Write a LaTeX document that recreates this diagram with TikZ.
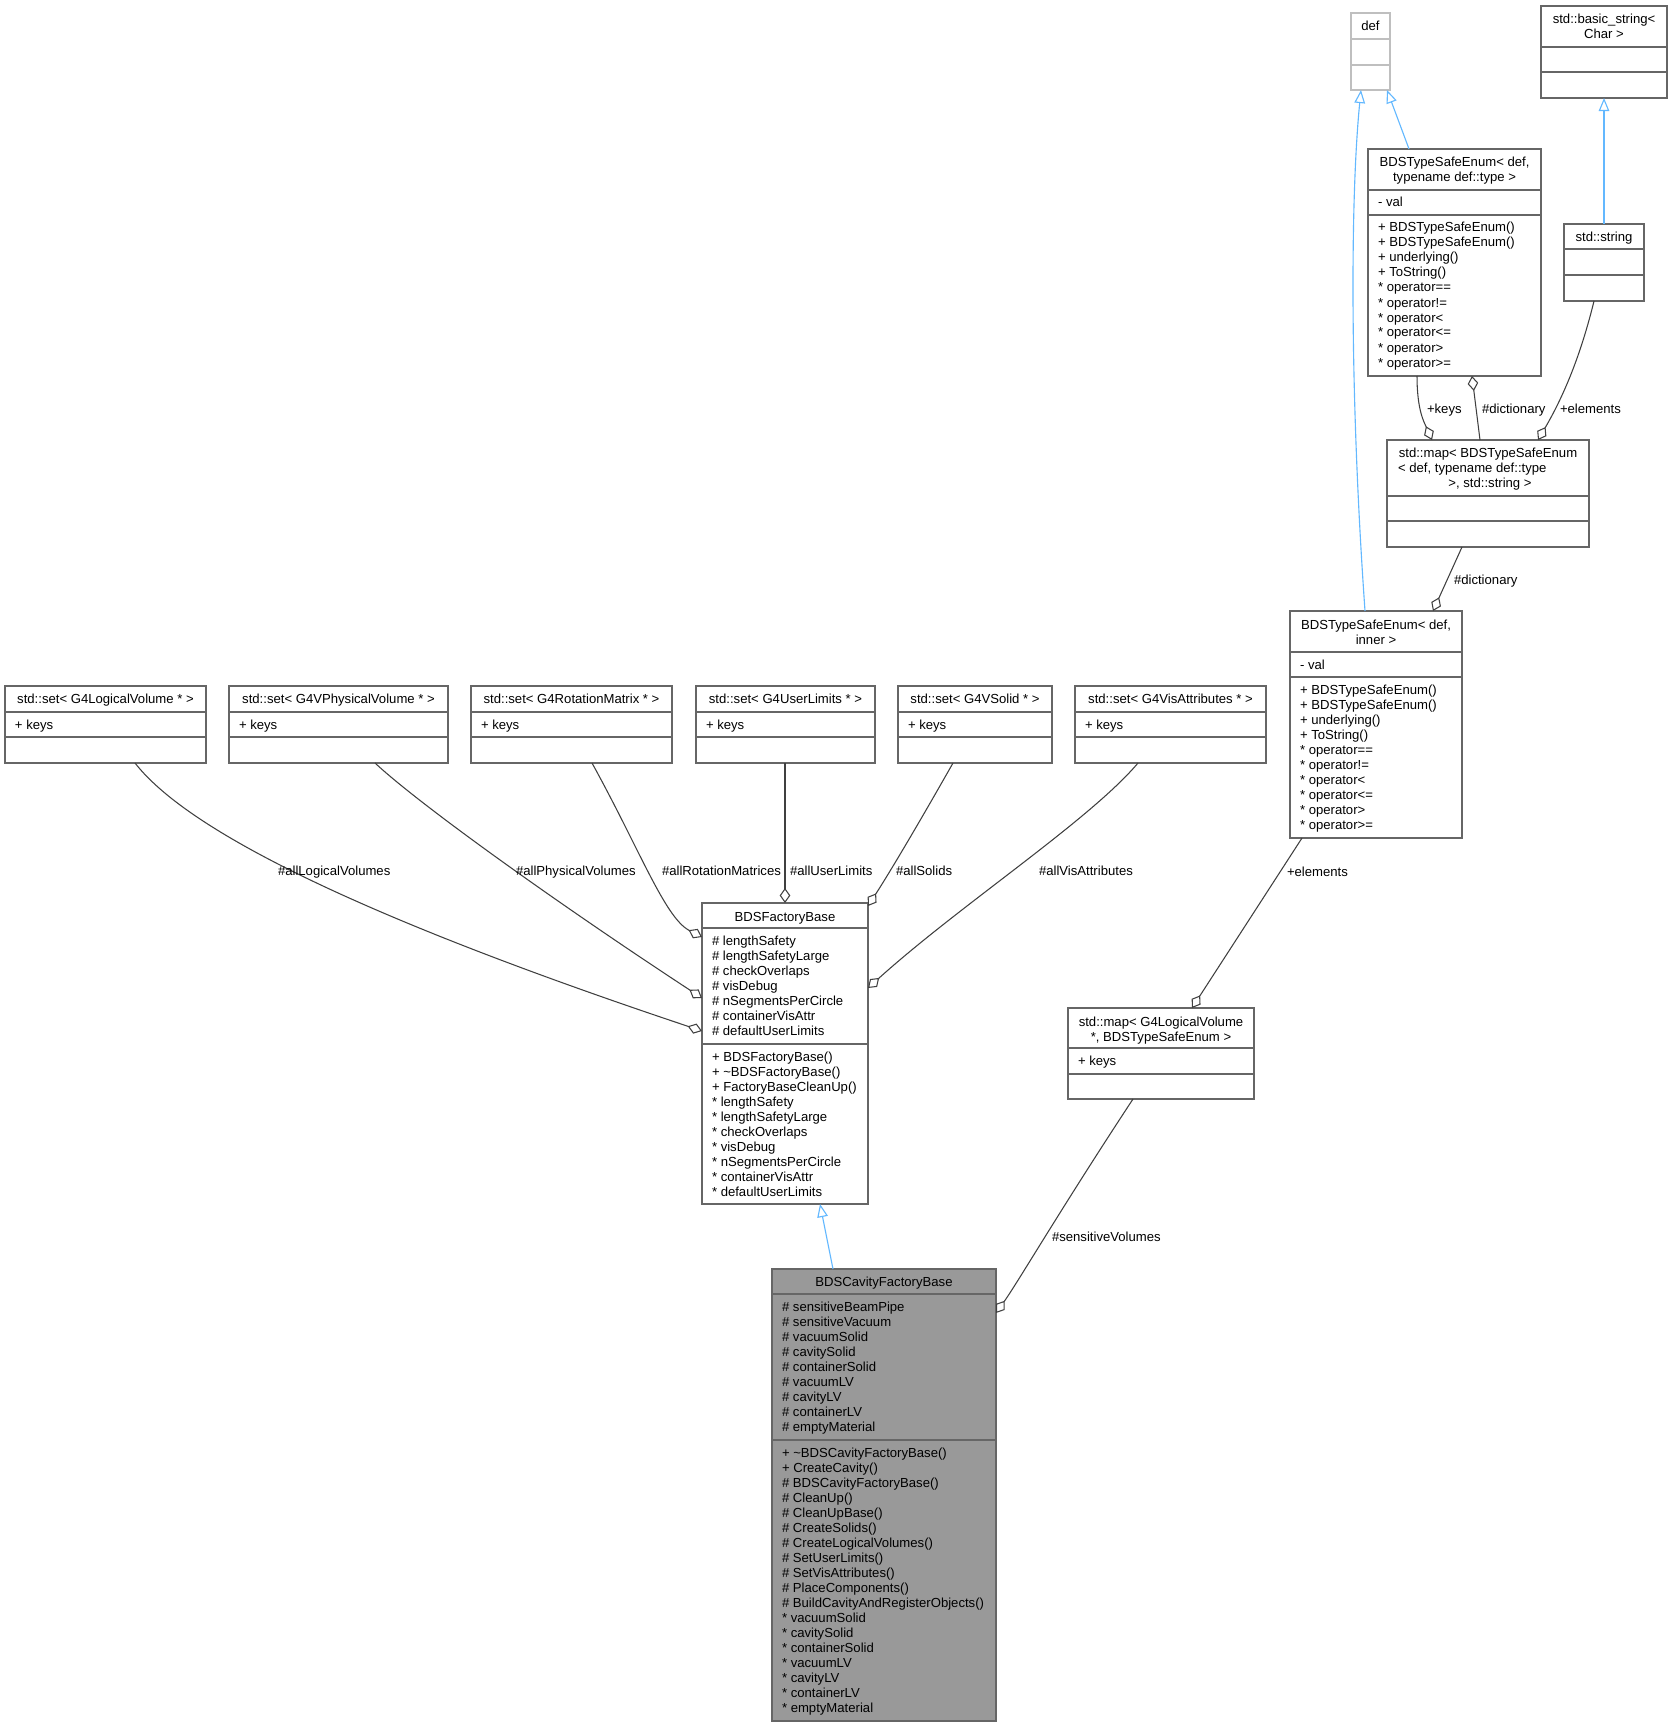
\documentclass[tikz,border=0pt]{standalone}
\usepackage{fontspec}
\setmainfont{Liberation Sans}
\usetikzlibrary{arrows.meta,calc}
\definecolor{boxgray}{HTML}{666666}
\definecolor{defgray}{HTML}{BFBFBF}
\definecolor{edgegray}{HTML}{404040}
\definecolor{inhblue}{HTML}{63B8FF}
\definecolor{cavfill}{HTML}{999999}
\tikzset{
  cls/.style={draw=boxgray, line width=0.9pt, fill=white, inner sep=0pt, outer sep=0pt, anchor=north west},
  divline/.style={draw=boxgray, line width=0.9pt},
  txt/.style={inner sep=0pt, outer sep=0pt, font=\fontsize{10.5}{12}\selectfont},
  assoc/.style={draw=edgegray, line width=0.85pt, -{Diamond[open, length=12pt, width=8.5pt, line width=0.85pt]}},
  inherit/.style={draw=inhblue, line width=0.9pt, -{Triangle[open, length=10.5pt, width=8.5pt, line width=0.9pt]}},
  lbl/.style={txt, anchor=base west},
}
\newcommand\umlcls[6]{\node[cls, #6, minimum width={(#4-#2)*0.8pt}, minimum height={(#5-#3)*0.8pt}] (#1) at (#2,#3) {};}
\newcommand\hdiv[4][boxgray]{\draw[divline, draw=#1] (#2,#4) -- (#3,#4);}
\newcommand\txtl[3]{\foreach \mytext [count=\i from 0] in {#3} {\node[txt, anchor=base west] at (#1, {#2+15*\i}) {\mytext};}}
\newcommand\txtc[3]{\foreach \mytext [count=\i from 0] in {#3} {\node[txt, anchor=base] at (#1, {#2+15*\i}) {\mytext};}}
\begin{document}
\begin{tikzpicture}[x=0.8pt, y=-0.8pt]
\useasboundingbox (0,0) rectangle (1672,1727);

% ---- def
\umlcls{def}{1351}{13}{1390}{90}{draw=defgray}
\hdiv[defgray]{1351}{1390}{39}\hdiv[defgray]{1351}{1390}{65}
\txtc{1370.5}{30.5}{def}

% ---- std::basic_string
\umlcls{bstr}{1541}{6}{1667}{98}{}
\hdiv{1541}{1667}{47}\hdiv{1541}{1667}{72}
\txtc{1604}{24}{std::basic\_string<, Char >}

% ---- std::string
\umlcls{str}{1564}{224}{1644}{301}{}
\hdiv{1564}{1644}{249}\hdiv{1564}{1644}{275}
\txtc{1604}{241.5}{std::string}

% ---- BDSTypeSafeEnum< def, typename def::type >
\umlcls{tse}{1368}{149}{1541}{376}{}
\hdiv{1368}{1541}{190}\hdiv{1368}{1541}{215}
\txtc{1454.5}{167}{{BDSTypeSafeEnum< def,}, typename def::type >}
\txtl{1378}{207}{- val}
\txtl{1378}{232}{+ BDSTypeSafeEnum(), + BDSTypeSafeEnum(), + underlying(), + ToString(), * operator==, * operator!=, * operator<, * operator<=, * operator>, * operator>=}

% ---- std::map< BDSTypeSafeEnum ... >
\umlcls{tmap}{1387}{440}{1589}{547}{}
\hdiv{1387}{1589}{496}\hdiv{1387}{1589}{521}
\txtc{1488}{457.5}{std::map< BDSTypeSafeEnum}
\txtl{1398}{472.5}{{< def, typename def::type}}
\txtc{1490}{487.5}{{>, std::string >}}

% ---- BDSTypeSafeEnum< def, inner >
\umlcls{inner}{1290}{611}{1462}{838}{}
\hdiv{1290}{1462}{652}\hdiv{1290}{1462}{677}
\txtc{1376}{629}{{BDSTypeSafeEnum< def,}, inner >}
\txtl{1300}{669}{- val}
\txtl{1300}{694}{+ BDSTypeSafeEnum(), + BDSTypeSafeEnum(), + underlying(), + ToString(), * operator==, * operator!=, * operator<, * operator<=, * operator>, * operator>=}

% ---- std::set boxes
\umlcls{slv}{5}{686}{206}{763}{}
\hdiv{5}{206}{712}\hdiv{5}{206}{737}
\txtc{105.5}{703.5}{std::set< G4LogicalVolume * >}
\txtl{15}{729}{+ keys}

\umlcls{spv}{229}{686}{448}{763}{}
\hdiv{229}{448}{712}\hdiv{229}{448}{737}
\txtc{338.5}{703.5}{std::set< G4VPhysicalVolume * >}
\txtl{239}{729}{+ keys}

\umlcls{srm}{471}{686}{672}{763}{}
\hdiv{471}{672}{712}\hdiv{471}{672}{737}
\txtc{571.5}{703.5}{std::set< G4RotationMatrix * >}
\txtl{481}{729}{+ keys}

\umlcls{sul}{696}{686}{875}{763}{}
\hdiv{696}{875}{712}\hdiv{696}{875}{737}
\txtc{785.5}{703.5}{std::set< G4UserLimits * >}
\txtl{706}{729}{+ keys}

\umlcls{svs}{898}{686}{1052}{763}{}
\hdiv{898}{1052}{712}\hdiv{898}{1052}{737}
\txtc{975}{703.5}{std::set< G4VSolid * >}
\txtl{908}{729}{+ keys}

\umlcls{sva}{1075}{686}{1266}{763}{}
\hdiv{1075}{1266}{712}\hdiv{1075}{1266}{737}
\txtc{1170.5}{703.5}{std::set< G4VisAttributes * >}
\txtl{1085}{729}{+ keys}

% ---- BDSFactoryBase
\umlcls{fb}{702}{903}{868}{1204}{}
\hdiv{702}{868}{928}\hdiv{702}{868}{1044}
\txtc{785}{921}{BDSFactoryBase}
\txtl{712}{945}{\# lengthSafety, \# lengthSafetyLarge, \# checkOverlaps, \# visDebug, \# nSegmentsPerCircle, \# containerVisAttr, \# defaultUserLimits}
\txtl{712}{1061}{+ BDSFactoryBase(), + \textasciitilde BDSFactoryBase(), + FactoryBaseCleanUp(), * lengthSafety, * lengthSafetyLarge, * checkOverlaps, * visDebug, * nSegmentsPerCircle, * containerVisAttr, * defaultUserLimits}

% ---- std::map< G4LogicalVolume *, BDSTypeSafeEnum >
\umlcls{lvmap}{1068}{1008}{1254}{1099}{}
\hdiv{1068}{1254}{1048}\hdiv{1068}{1254}{1074}
\txtc{1161}{1026}{std::map< G4LogicalVolume, {*, BDSTypeSafeEnum >}}
\txtl{1078}{1065}{+ keys}

% ---- BDSCavityFactoryBase
\umlcls{cav}{772}{1269}{996}{1721}{fill=cavfill}
\hdiv{772}{996}{1294}\hdiv{772}{996}{1440}
\txtc{884}{1286.5}{BDSCavityFactoryBase}
\txtl{782}{1311}{\# sensitiveBeamPipe, \# sensitiveVacuum, \# vacuumSolid, \# cavitySolid, \# containerSolid, \# vacuumLV, \# cavityLV, \# containerLV, \# emptyMaterial}
\txtl{782}{1457}{+ \textasciitilde BDSCavityFactoryBase(), + CreateCavity(), \# BDSCavityFactoryBase(), \# CleanUp(), \# CleanUpBase(), \# CreateSolids(), \# CreateLogicalVolumes(), \# SetUserLimits(), \# SetVisAttributes(), \# PlaceComponents(), \# BuildCavityAndRegisterObjects(), * vacuumSolid, * cavitySolid, * containerSolid, * vacuumLV, * cavityLV, * containerLV, * emptyMaterial}

% ================= connectors
% inheritance
\draw[inherit] ($(inner.north west)+(75,0)$) .. controls (1350,400) and (1350,200) .. ($(def.south west)+(10,0)$);
\draw[inherit] ($(tse.north west)+(41,0)$) -- ($(def.south west)+(36,0)$);
\draw[inherit] (str.north) -- (bstr.south);
\draw[inherit] ($(cav.north west)+(61,0)$) -- ($(fb.south west)+(118,0)$);

% associations (diamond at the owner)
\draw[assoc] ($(tse.south west)+(49,0)$) .. controls (1417,410) and (1424,422) .. ($(tmap.north west)+(45,0)$);
\draw[assoc] ($(tmap.north west)+(93,0)$) -- ($(tse.south west)+(104,0)$);
\draw[assoc] ($(str.south west)+(30,0)$) .. controls (1582,350) and (1566,392) .. ($(tmap.north west)+(151,0)$);
\draw[assoc] ($(tmap.south west)+(75,0)$) -- ($(inner.north west)+(143,0)$);
\draw[assoc] ($(inner.south west)+(12,0)$) -- ($(lvmap.north west)+(124,0)$);
\draw[assoc] ($(lvmap.south west)+(65,0)$) .. controls (1060,1210) and (1018,1282) .. ($(cav.north east)+(0,44)$);

\draw[assoc] ($(slv.south west)+(130,0)$) .. controls (195,840) and (400,930) .. ($(fb.north west)+(0,128)$);
\draw[assoc] ($(spv.south west)+(146,0)$) .. controls (420,805) and (560,905) .. ($(fb.north west)+(0,95)$);
\draw[assoc] ($(srm.south west)+(121,0)$) .. controls (640,850) and (665,918) .. ($(fb.north west)+(0,34)$);
\draw[assoc] ($(sul.south west)+(89,0)$) -- ($(fb.north west)+(83,0)$);
\draw[assoc] ($(svs.south west)+(55,0)$) .. controls (915,830) and (888,875) .. ($(fb.north east)+(0,3)$);
\draw[assoc] ($(sva.south west)+(63,0)$) .. controls (1090,820) and (960,905) .. ($(fb.north east)+(0,85)$);

% edge labels
\node[lbl] (l1) at (278,875) {\#allLogicalVolumes};
\node[lbl] (l2) at (516,875) {\#allPhysicalVolumes};
\node[lbl] (l3) at (662,875) {\#allRotationMatrices};
\node[lbl] (l4) at (790,875) {\#allUserLimits};
\node[lbl] (l5) at (896,875) {\#allSolids};
\node[lbl] (l6) at (1039,875) {\#allVisAttributes};
\node[lbl] (l7) at (1287,876) {+elements};
\node[lbl] (l8) at (1052,1241) {\#sensitiveVolumes};
\node[lbl] (l9) at (1427,413) {+keys};
\node[lbl] (l10) at (1482,413) {\#dictionary};
\node[lbl] (l11) at (1560,413) {+elements};
\node[lbl] (l12) at (1454,584) {\#dictionary};
\end{tikzpicture}
\end{document}
